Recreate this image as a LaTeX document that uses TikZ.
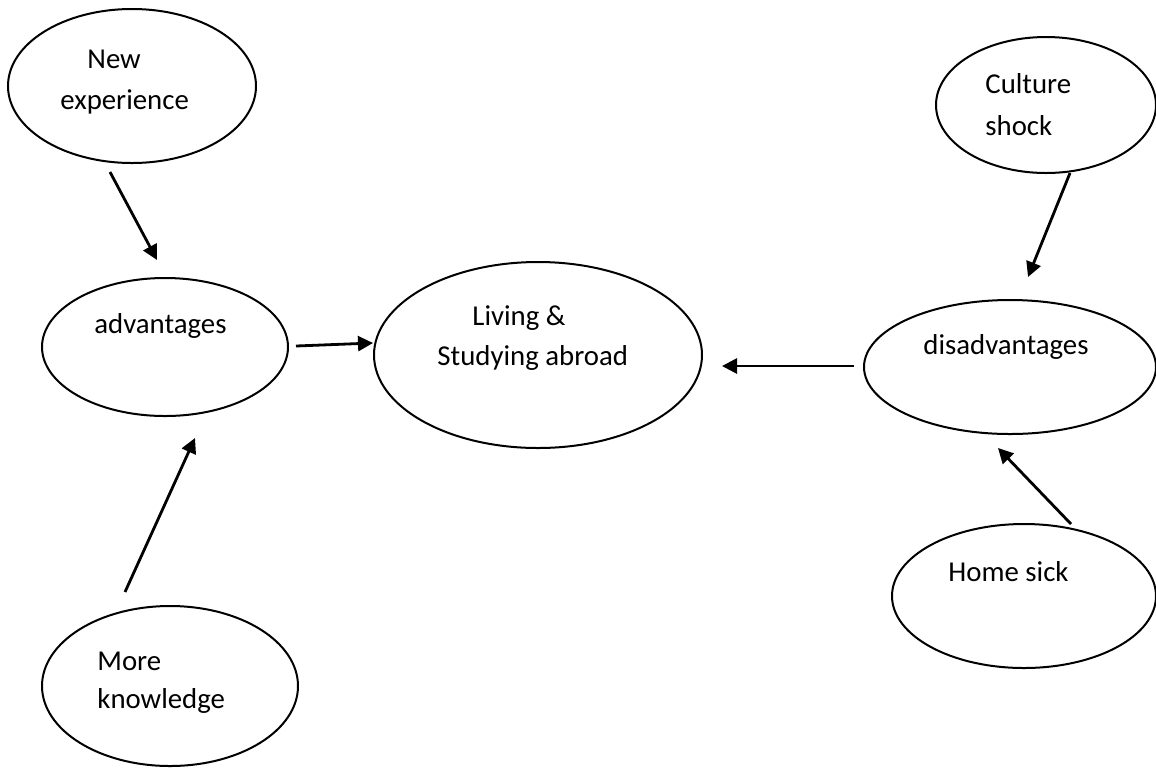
\documentclass[tikz,border=0pt]{standalone}
\usepackage{fontspec}
\setmainfont{Carlito}
\usetikzlibrary{arrows.meta, positioning, shapes.geometric}

\begin{document}
\begin{tikzpicture}[x=0.5pt, y=-0.5pt,
  >={Triangle[length=7.5pt, width=7.5pt]},
  bubble/.style={draw, ellipse, line width=1pt, inner sep=0pt},
  lbl/.style={anchor=base west, inner sep=0pt, font=\fontsize{14.4}{17}\selectfont},
  link/.style={->, line width=1.4pt}]
\useasboundingbox (0,0) rectangle (1156,767);

% bubbles
\node[bubble, minimum width=124pt, minimum height=77pt] (newexp) at (132,86) {};
\node[bubble, minimum width=110pt, minimum height=68pt] (culture) at (1046,105) {};
\node[bubble, minimum width=123pt, minimum height=69pt] (adv) at (165,347) {};
\node[bubble, minimum width=164pt, minimum height=93pt] (living) at (538,355) {};
\node[bubble, minimum width=146pt, minimum height=67pt] (disadv) at (1010,367) {};
\node[bubble, minimum width=132pt, minimum height=72pt] (home) at (1024,596) {};
\node[bubble, minimum width=128pt, minimum height=80pt] (more) at (170,686) {};

% texts
\node[lbl] (newexpA) at (87,68) {New};
\node[lbl] (newexpB) at (60,109) {experience};
\node[lbl] (cultureA) at (985,93) {Culture};
\node[lbl] (cultureB) at (985,135) {shock};
\node[lbl] (advT) at (94,333) {advantages};
\node[lbl] (livingA) at (472,325) {Living \&};
\node[lbl] (livingB) at (437,365) {Studying abroad};
\node[lbl] (disadvT) at (923,354) {disadvantages};
\node[lbl] (homeT) at (948,581) {Home sick};
\node[lbl] (moreA) at (97,670) {More};
\node[lbl] (moreB) at (97,708) {knowledge};

% arrow ends
\coordinate (newexpOut) at (110,172);
\coordinate (advInTop) at (157,260);
\coordinate (advOut) at (296,346);
\coordinate (livingInL) at (373,343);
\coordinate (moreOut) at (125,592);
\coordinate (advInBot) at (195,438);
\coordinate (disadvOut) at (854,366);
\coordinate (livingInR) at (722,366);
\coordinate (cultureOut) at (1070,173);
\coordinate (disadvInTop) at (1028,277);
\coordinate (homeOut) at (1071,524);
\coordinate (disadvInBot) at (998,448);

\path[link] (newexpOut) edge (advInTop);
\path[link] (advOut) edge (livingInL);
\path[link] (moreOut) edge (advInBot);
\path[link] (disadvOut) edge (livingInR);
\path[link] (cultureOut) edge (disadvInTop);
\path[link] (homeOut) edge (disadvInBot);
\end{tikzpicture}
\end{document}
